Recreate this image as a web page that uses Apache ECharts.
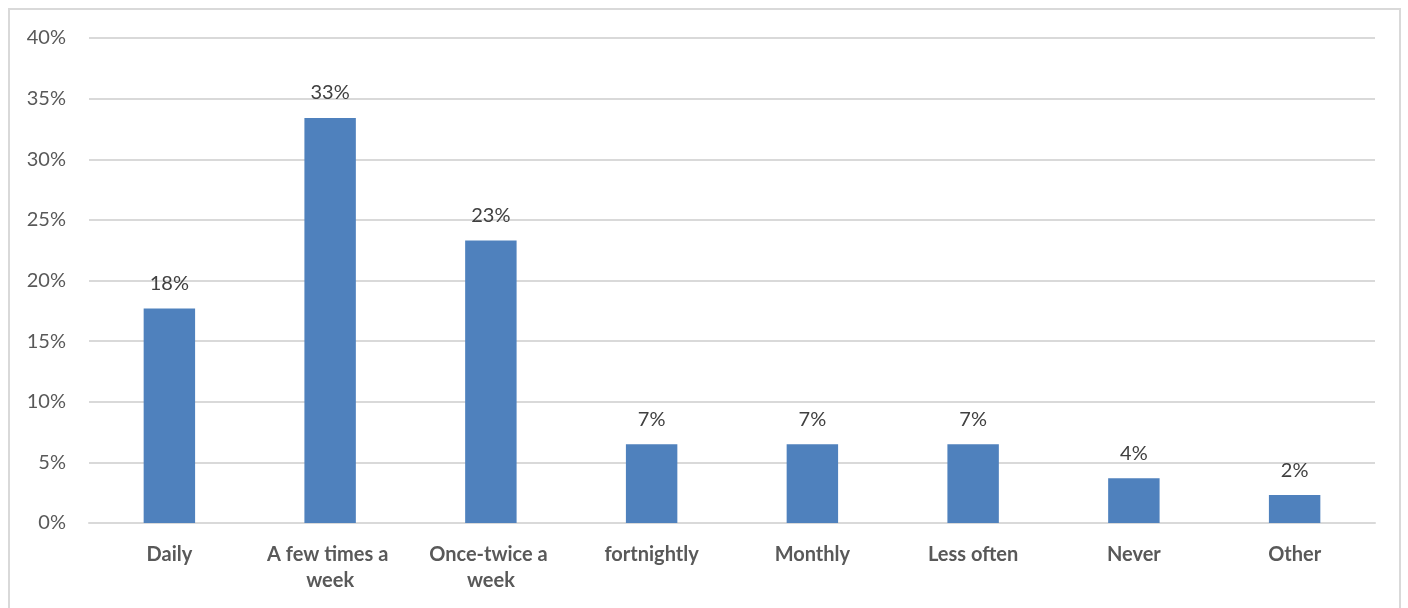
<!DOCTYPE html>
<html>
<head>
<meta charset="UTF-8">
<title>Frequency</title>
<script src="https://cdn.jsdelivr.net/npm/echarts@6/dist/echarts.min.js"></script>
<style>
  html, body { margin: 0; padding: 0; width: 1408px; height: 608px; background: #fff; overflow: hidden; }
  #frame { position: absolute; left: 8px; top: 8px; width: 1393px; height: 620px; border: 2px solid #d9d9d9; box-sizing: border-box; }
  #chart { position: absolute; left: 0; top: 0; width: 1408px; height: 608px; }
</style>
</head>
<body>
<div id="frame"></div>
<div id="chart"></div>
<script type="text/javascript">
var categories = ['Daily', 'A few times a week', 'Once-twice a week', 'fortnightly', 'Monthly', 'Less often', 'Never', 'Other'];
var percents = [17.7, 33.4, 23.3, 6.5, 6.5, 6.5, 3.7, 2.3];
var yTicks = [0, 5, 10, 15, 20, 25, 30, 35, 40];

var chart = echarts.init(document.getElementById('chart'));
var font = 'Lato, "Open Sans", sans-serif';
var option = {
  animation: false,
  grid: { left: 89, right: 33, top: 38, bottom: 85, containLabel: false },
  xAxis: {
    type: 'category',
    data: categories,
    axisLine: { show: true, lineStyle: { color: '#d9d9d9', width: 2 } },
    axisTick: { show: false },
    axisLabel: {
      interval: 0,
      margin: 19,
      width: 150,
      overflow: 'break',
      lineHeight: 26,
      color: '#595959',
      fontFamily: font,
      fontWeight: 'bold',
      fontSize: 20
    }
  },
  yAxis: {
    type: 'value',
    min: yTicks[0],
    max: yTicks[yTicks.length - 1],
    interval: 5,
    axisLine: { show: false },
    axisTick: { show: false },
    splitLine: { lineStyle: { color: '#d9d9d9', width: 2 } },
    axisLabel: {
      margin: 23,
      color: '#595959',
      fontFamily: font,
      fontSize: 20,
      formatter: function (v) { return v + '%'; }
    }
  },
  series: [{
    type: 'bar',
    data: percents,
    barWidth: '32%',
    itemStyle: { color: '#4f81bd' },
    label: {
      show: true,
      position: 'top',
      distance: 15,
      color: '#404040',
      fontFamily: font,
      fontSize: 20,
      formatter: function (p) { return Math.round(p.value) + '%'; }
    }
  }]
};
chart.setOption(option);
</script>
</body>
</html>
